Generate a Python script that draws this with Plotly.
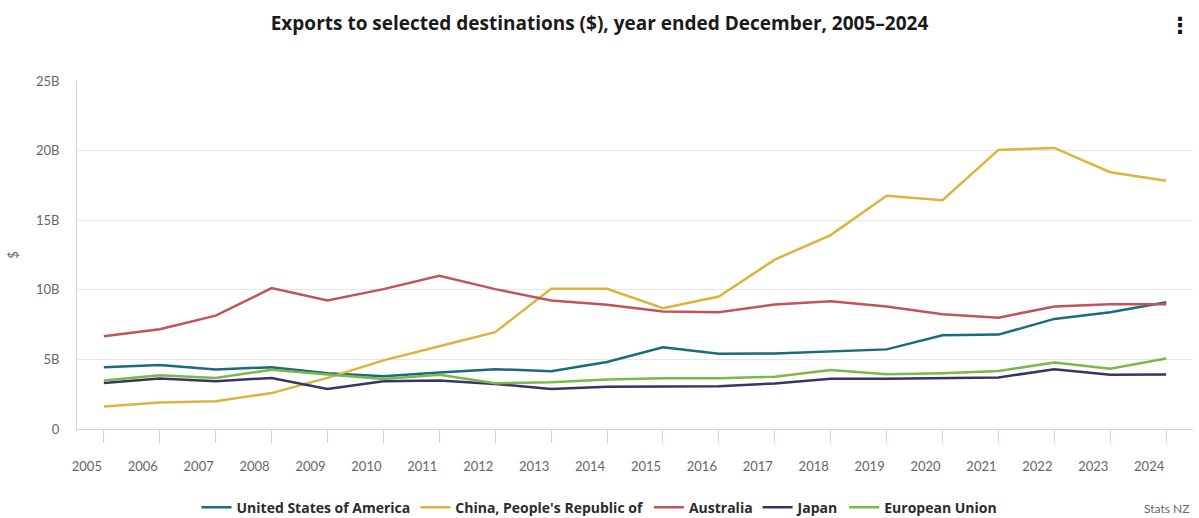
import plotly.graph_objects as go

years = list(range(2005, 2025))
usa = [4.44, 4.59, 4.28, 4.44, 4.01, 3.79, 4.06, 4.30, 4.15, 4.81, 5.87, 5.41, 5.43, 5.60, 5.72, 6.73, 6.78, 7.91, 8.39, 9.11]
china = [1.62, 1.91, 2.00, 2.58, 3.67, 4.93, 5.94, 6.96, 10.07, 10.07, 8.68, 9.52, 12.17, 13.93, 16.76, 16.43, 20.05, 20.19, 18.45, 17.83]
australia = [6.67, 7.17, 8.14, 10.12, 9.23, 10.05, 11.00, 10.05, 9.23, 8.92, 8.44, 8.39, 8.94, 9.18, 8.80, 8.25, 8.00, 8.80, 8.97, 8.97]
japan = [3.31, 3.62, 3.43, 3.67, 2.87, 3.43, 3.48, 3.24, 2.87, 3.03, 3.05, 3.08, 3.27, 3.61, 3.61, 3.63, 3.70, 4.30, 3.89, 3.92]
eu = [3.48, 3.86, 3.67, 4.25, 3.91, 3.60, 3.89, 3.29, 3.36, 3.56, 3.65, 3.65, 3.75, 4.23, 3.94, 4.01, 4.16, 4.78, 4.33, 5.07]

series_names = ["United States of America", "China, People's Republic of", "Australia", "Japan", "European Union"]
series_vals = [usa, china, australia, japan, eu]
colors = ["#1b6a7e", "#dcb43c", "#c1545b", "#3a3363", "#7bb84a"]

y_ticks = [0, 5, 10, 15, 20, 25]
y_labels = ["0", "5B", "10B", "15B", "20B", "25B"]

FONT = "Lato, 'Open Sans', sans-serif"
BOLD_FONT = "'Open Sans', Lato, sans-serif"

fig = go.Figure()
for name, vals, c in zip(series_names, series_vals, colors):
    fig.add_trace(go.Scatter(
        x=years, y=vals, name=name, mode="lines",
        line=dict(color=c, width=2.5),
        hovertemplate="%{x}: $%{y:.2f}B<extra>" + name + "</extra>",
    ))

fig.update_layout(
    width=1199, height=518,
    paper_bgcolor="white", plot_bgcolor="white",
    margin=dict(l=77, r=6, t=81, b=89, autoexpand=False),
    font=dict(family=FONT, color="#666666", size=13),
    title=dict(
        text="<b>Exports to selected destinations ($), year ended December, 2005–2024</b>",
        x=0.5, xanchor="center", y=0.955, yanchor="middle",
        font=dict(family=BOLD_FONT, size=19, color="#1a1a1a"),
    ),
    showlegend=True,
    legend=dict(
        orientation="h", xref="container", x=0.5, xanchor="center",
        y=-0.18, yanchor="top",
        font=dict(family=BOLD_FONT, size=14, color="#2b2b2b", weight="bold"),
        itemwidth=30, tracegroupgap=0,
    ),
    xaxis=dict(
        range=[2004.52, 2024.48],
        tickmode="array", tickvals=years, ticktext=[str(y) for y in years],
        showgrid=False, zeroline=False,
        showline=True, linecolor="#ccd6eb", linewidth=1,
        ticks="outside", ticklen=13, tickcolor="#ccd6eb", tickwidth=1,
        ticklabelshift=-17, ticklabelstandoff=12,
        tickfont=dict(family=FONT, size=13, color="#666666"),
        fixedrange=True, automargin=False,
    ),
    yaxis=dict(
        range=[0, 25],
        tickmode="array", tickvals=y_ticks, ticktext=y_labels,
        showgrid=True, gridcolor="#e6e6e6", gridwidth=1,
        zeroline=False,
        showline=True, linecolor="#ccd6eb", linewidth=1,
        ticks="", ticklabelstandoff=14,
        tickfont=dict(family=FONT, size=13, color="#666666"),
        title=dict(text="$", standoff=14, font=dict(family=FONT, size=13, color="#666666")),
        fixedrange=True, automargin=False,
    ),
)

fig.add_annotation(
    text="Stats NZ", xref="paper", yref="paper", x=1.0, y=-0.228,
    xanchor="right", yanchor="middle", showarrow=False, xshift=-2,
    font=dict(family=FONT, size=12, color="#666666"),
)
fig.add_annotation(
    text="<b>⋮</b>", xref="paper", yref="paper", x=1.0, y=1.16,
    xanchor="right", yanchor="middle", showarrow=False,
    font=dict(family="DejaVu Sans", size=22, color="#111111"),
)

fig.write_html(
    "out.html",
    config={"displayModeBar": False},
    post_script="document.body.style.margin='0';",
)
